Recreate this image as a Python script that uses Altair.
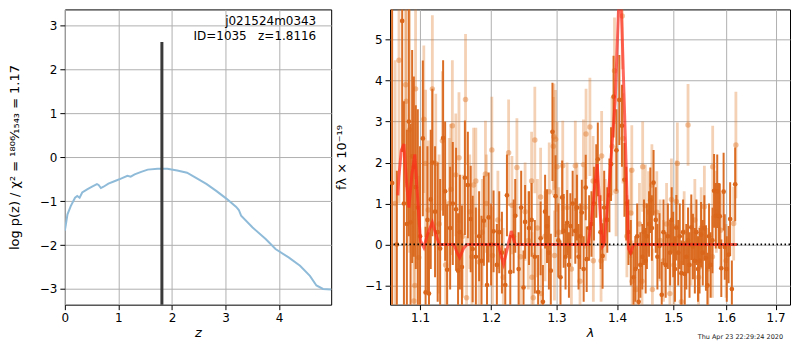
import altair as alt
import pandas as pd

FONT = "DejaVu Sans"

# ---------------- left panel: log p(z) ----------------
z_grid = [0.0, 0.049, 0.110, 0.190, 0.232, 0.275, 0.324, 0.416, 0.508, 0.599,
          0.630, 0.673, 0.722, 0.813, 0.936, 1.058, 1.168, 1.229, 1.303, 1.425,
          1.547, 1.731, 1.914, 2.098, 2.281, 2.465, 2.648, 2.832, 3.015, 3.199,
          3.248, 3.291, 3.505, 3.749, 3.933, 4.177, 4.391, 4.575, 4.697, 4.820, 4.972]
logp = [-1.67, -1.30, -1.11, -0.92, -0.88, -0.92, -0.80, -0.73, -0.67, -0.61,
        -0.63, -0.70, -0.67, -0.60, -0.54, -0.48, -0.42, -0.44, -0.39, -0.33,
        -0.28, -0.26, -0.26, -0.30, -0.35, -0.48, -0.61, -0.77, -0.94, -1.13,
        -1.20, -1.33, -1.60, -1.86, -2.09, -2.28, -2.47, -2.70, -2.92, -3.00, -3.01]
z_best = [1.8116]
z_best_top = [2.63]
left_labels = ["j021524m0343", "ID=1035\u00a0\u00a0\u00a0z=1.8116"]
left_label_y = [12, 27]

# ---------------- right panel: spectrum ----------------
wave_dark = [1.0630, 1.0692, 1.0762, 1.0785, 1.0824, 1.0850, 1.0873, 1.0894, 1.0917, 1.0943,
             1.0970, 1.1000, 1.1038, 1.1075, 1.1100, 1.1121, 1.1145, 1.1167, 1.1204, 1.1240,
             1.1274, 1.1315, 1.1343, 1.1371, 1.1413, 1.1450, 1.1496, 1.1524, 1.1550, 1.1579,
             1.1621, 1.1663, 1.1704, 1.1732, 1.1778, 1.1825, 1.1860, 1.1894, 1.1940, 1.1964,
             1.2000, 1.2036, 1.2085, 1.2120, 1.2160, 1.2210, 1.2235, 1.2285, 1.2336, 1.2360,
             1.2411, 1.2450, 1.2486, 1.2510, 1.2570, 1.2610, 1.2660, 1.2711, 1.2750, 1.2786,
             1.2820, 1.2850, 1.2880, 1.2910, 1.2936, 1.2985, 1.3030, 1.3064, 1.3091, 1.3116,
             1.3145, 1.3171, 1.3200, 1.3223, 1.3260, 1.3303, 1.3330, 1.3356, 1.3385, 1.3410,
             1.3440, 1.3474, 1.3490, 1.3530, 1.3569, 1.3610, 1.3649, 1.3675, 1.3720, 1.3755,
             1.3782, 1.3834, 1.3870, 1.3898, 1.3941, 1.3990, 1.4040, 1.4085, 1.4128, 1.4160,
             1.4198, 1.4239, 1.4287, 1.4317, 1.4350, 1.4376, 1.4406, 1.4440, 1.4470, 1.4500,
             1.4522, 1.4560, 1.4583, 1.4611, 1.4641, 1.4680, 1.4710, 1.4747, 1.4788, 1.4820,
             1.4860, 1.4900, 1.4940, 1.4970, 1.4997, 1.5030, 1.5055, 1.5090, 1.5118, 1.5148,
             1.5180, 1.5211, 1.5240, 1.5272, 1.5300, 1.5333, 1.5364, 1.5400, 1.5430, 1.5460,
             1.5489, 1.5518, 1.5550, 1.5580, 1.5611, 1.5640, 1.5670, 1.5700, 1.5735, 1.5767,
             1.5800, 1.5828, 1.5859, 1.5878, 1.5907, 1.5952, 1.5975, 1.6014, 1.6050, 1.6080,
             1.6114, 1.6180]
flux_dark = [1.5, 0.0, 5.46, 1.0, 0.5, 3.0, 0.54, 2.15, 1.9, 1.4,
             0.9, 0.2, 2.59, -1.17, 0.6, -1.2, 1.1, 2.0, 0.8, 0.3,
             -0.1, 2.6, 1.3, -0.62, 0.4, 1.0, 0.86, -0.64, 0.3, -0.55,
             1.63, 1.45, 0.62, -0.11, -0.3, 0.2, -0.4, 0.58, -0.99, 0.66,
             0.0, 0.32, -0.5, 0.3, -0.2, -0.99, 1.2, -0.67, 0.2, 0.7,
             -0.6, 0.9, -1.05, 0.55, 0.4, 0.6, -0.3, -1.16, 0.15, -1.4,
             0.8, 0.45, -0.2, -0.64, 2.75, 1.18, 0.1, -0.8, 1.15, 0.33,
             -0.3, 0.53, -0.5, 0.45, 1.0, 0.33, 0.9, -0.3, 0.2, 0.78,
             -0.6, 1.39, -0.36, 0.4, 0.5, 1.0, 1.55, 2.08, 0.3, -0.28,
             0.9, 0.6, 1.2, 1.96, 3.61, 2.3, 3.53, 2.9, 1.58, 1.0,
             0.3, -0.2, -0.8, -0.6, 0.2, -1.4, -0.5, -0.3, 0.3, -0.4,
             0.2, 0.5, 1.08, 0.4, 1.51, 0.6, -0.3, -0.04, -1.23, 0.3,
             -0.5, 0.2, -0.2, 0.6, 0.0, -0.6, 0.41, -0.2, 0.2, -0.7,
             0.3, -0.72, -0.3, 0.1, -0.5, 0.42, -0.05, -0.4, 0.3, -0.6,
             -0.4, 0.24, -0.2, 0.4, -0.33, -1.0, 0.2, -0.5, 0.1, 1.31,
             0.7, 1.3, 0.7, 0.69, -0.58, 1.29, -0.06, -0.6, -0.25, 0.62,
             -1.09, 1.47]
err_dark = [5.0, 1.8, 3.2, 2.5, 2.3, 2.8, 2.4, 2.6, 2.2, 2.0,
            2.4, 2.2, 1.9, 1.6, 1.8, 1.5, 1.7, 1.8, 1.6, 1.7,
            1.7, 1.9, 1.7, 1.6, 1.5, 1.5, 1.5, 1.4, 1.4, 1.5,
            1.4, 1.3, 1.3, 1.3, 1.2, 1.1, 1.1, 1.1, 1.0, 1.1,
            1.0, 1.0, 1.0, 1.0, 1.0, 0.9, 1.0, 0.9, 0.9, 0.9,
            0.9, 0.9, 0.9, 0.9, 0.9, 0.9, 0.9, 0.9, 0.9, 0.9,
            0.9, 0.9, 0.9, 0.9, 1.2, 1.0, 0.9, 0.9, 0.9, 0.9,
            0.8, 0.8, 0.8, 0.8, 0.8, 0.8, 0.8, 0.8, 0.8, 0.8,
            0.8, 0.8, 0.8, 0.8, 0.8, 0.9, 0.9, 0.9, 0.9, 0.8,
            0.9, 0.8, 0.9, 0.9, 1.0, 1.0, 1.1, 1.0, 0.9, 0.9,
            0.8, 0.8, 0.8, 0.8, 0.8, 0.8, 0.8, 0.8, 0.8, 0.8,
            0.8, 0.8, 0.8, 0.8, 0.8, 0.8, 0.8, 0.8, 0.8, 0.8,
            0.8, 0.8, 0.8, 0.8, 0.8, 0.8, 0.8, 0.8, 0.8, 0.8,
            0.8, 0.8, 0.8, 0.8, 0.8, 0.8, 0.8, 0.8, 0.8, 0.8,
            0.8, 0.8, 0.8, 0.8, 0.8, 0.8, 0.8, 0.8, 0.8, 0.9,
            0.8, 0.9, 0.8, 0.8, 0.7, 0.95, 0.8, 0.8, 0.7, 0.9,
            0.7, 0.9]

wave_light = [1.0670, 1.0720, 1.0808, 1.0815, 1.0860, 1.0917, 1.0930, 1.0940, 1.0983, 1.1051,
              1.1075, 1.1111, 1.1167, 1.1214, 1.1260, 1.1305, 1.1350, 1.1400, 1.1422, 1.1444,
              1.1492, 1.1537, 1.1590, 1.1630, 1.1645, 1.1690, 1.1722, 1.1746, 1.1778, 1.1825,
              1.1871, 1.1917, 1.1930, 1.2011, 1.2020, 1.2100, 1.2180, 1.2260, 1.2310, 1.2385,
              1.2440, 1.2510, 1.2560, 1.2610, 1.2615, 1.2636, 1.2660, 1.2700, 1.2750, 1.2760,
              1.2820, 1.2885, 1.2950, 1.2960, 1.2968, 1.2985, 1.3011, 1.3037, 1.3100, 1.3170,
              1.3240, 1.3303, 1.3330, 1.3380, 1.3436, 1.3463, 1.3479, 1.3543, 1.3596, 1.3600,
              1.3729, 1.3739, 1.3800, 1.3914, 1.3957, 1.3984, 1.4090, 1.4102, 1.4170, 1.4239,
              1.4256, 1.4262, 1.4330, 1.4390, 1.4435, 1.4447, 1.4494, 1.4553, 1.4611, 1.4620,
              1.4699, 1.4759, 1.4820, 1.4876, 1.4936, 1.4965, 1.5010, 1.5055, 1.5074, 1.5148,
              1.5200, 1.5272, 1.5330, 1.5400, 1.5470, 1.5520, 1.5581, 1.5650, 1.5735, 1.5740,
              1.5810, 1.5895, 1.6000, 1.6150, 1.6194]
flux_light = [1.0, 4.5, 3.9, 3.5, 2.8, -1.38, -1.0, 3.8, -0.32, 3.06,
              1.98, 0.84, 3.8, 1.98, 0.5, 2.53, -0.5, 1.0, 1.34, 2.9,
              1.7, 2.12, 0.2, 3.54, -1.3, 0.8, -0.3, 1.45, 1.55, -0.43,
              0.3, 1.72, 1.0, 2.31, -0.27, 0.6, -0.8, 2.24, 0.96, 1.88,
              -0.3, 0.8, 0.1, 1.55, -0.8, -1.3, 2.55, 0.4, 1.16, -1.2,
              0.2, 1.29, 2.4, 2.63, -0.27, 2.57, 1.9, 0.3, 1.92, 0.9,
              -0.6, 1.92, 0.9, -0.9, 1.95, 0.9, 2.7, 2.87, 1.55, -0.4,
              -0.4, 2.16, 0.6, 2.4, 4.24, 1.3, 5.58, 2.59, 0.2, 0.77,
              1.81, -0.9, -1.1, 0.5, -0.9, 1.9, 0.95, 0.79, 1.45, -1.1,
              0.79, 0.1, -0.4, 0.5, -1.2, 1.1, -0.5, 1.05, 1.98, -1.4,
              0.3, 2.92, 0.0, 0.6, -0.8, 0.4, 0.92, -0.6, -0.3, 1.9,
              0.8, 0.35, -0.4, 0.51, 2.43]
err_light = [3.5, 3.5, 2.5, 2.5, 3.0, 2.2, 2.0, 2.2, 2.0, 1.8,
             1.8, 1.7, 1.8, 1.7, 1.7, 1.7, 1.6, 1.6, 1.6, 1.6,
             1.5, 1.6, 1.5, 1.6, 1.5, 1.4, 1.4, 1.4, 1.3, 1.3,
             1.3, 1.3, 1.2, 1.3, 1.2, 1.2, 1.2, 1.3, 1.2, 1.2,
             1.2, 1.2, 1.2, 1.2, 1.1, 1.1, 1.3, 1.2, 1.2, 1.1,
             1.1, 1.2, 1.2, 1.3, 1.1, 1.2, 1.1, 1.1, 1.1, 1.1,
             1.0, 1.1, 1.1, 1.0, 1.1, 1.0, 1.1, 1.2, 1.1, 1.0,
             1.0, 1.1, 1.0, 1.2, 1.3, 1.1, 1.3, 1.1, 1.0, 1.1,
             1.1, 1.0, 1.0, 1.0, 1.0, 1.1, 1.0, 1.0, 1.0, 1.0,
             1.0, 1.0, 1.0, 1.0, 1.0, 1.0, 1.0, 1.0, 1.0, 1.0,
             1.0, 1.0, 1.0, 1.0, 1.0, 1.0, 1.0, 1.0, 1.0, 1.0,
             1.0, 0.9, 0.9, 0.9, 1.3]

model_wave = [1.0705, 1.0718, 1.0750, 1.0785, 1.0820, 1.0851, 1.0890, 1.0930, 1.0965, 1.1006,
              1.1051, 1.1110, 1.1167, 1.1215, 1.1260, 1.1468, 1.1510, 1.1547, 1.1600, 1.1649,
              1.2110, 1.2150, 1.2185, 1.2240, 1.2300, 1.2330, 1.2360, 1.3515, 1.3570, 1.3620,
              1.3665, 1.3718, 1.3755, 1.3782, 1.3862, 1.3969, 1.4020, 1.4050, 1.4085, 1.4141,
              1.4198, 1.4234, 1.4287, 1.6216]
model_flux = [1.2, 1.63, 2.3, 2.45, 1.5, 0.9, 1.7, 2.2, 1.2, 0.09,
              -0.07, 0.3, 0.54, 0.25, 0.0, 0.0, -0.2, -0.32, -0.1, 0.0,
              0.0, -0.3, -0.48, -0.1, 0.33, 0.15, 0.0, 0.0, 0.6, 1.39,
              1.96, 0.7, -0.05, 0.0, 1.39, 3.5, 5.5, 6.6, 5.3, 2.7,
              -0.1, -0.2, 0.0, 0.0]
zero_level = [0.0]
timestamp = ["Thu Apr 23 22:29:24 2020"]

DARK = "#d9661a"
LIGHT = "#e07a2c"

W_LEFT, W_RIGHT, H = 267, 401, 296

# ---------------- left chart ----------------
xs_l = alt.Scale(domain=[0, 4.972], nice=False, zero=False)
ys_l = alt.Scale(domain=[-3.357, 3.37], nice=False, zero=False)
xax_l = alt.Axis(values=[0, 1, 2, 3, 4], format="d", title="z",
                 titleFontStyle="italic", titlePadding=3, labelFlush=False)
yax_l = alt.Axis(values=[-3, -2, -1, 0, 1, 2, 3], format="d",
                 title="log p(z) / χ² = ¹⁸⁰⁶⁄₁₅₄₃ = 1.17", titlePadding=16,
                 minExtent=27, maxExtent=27)

df_pz = pd.DataFrame({"z": z_grid, "logp": logp})
pz_line = alt.Chart(df_pz).mark_line(color="#8fbbd9", strokeWidth=2, clip=True).encode(
    x=alt.X("z:Q", scale=xs_l, axis=xax_l),
    y=alt.Y("logp:Q", scale=ys_l, axis=yax_l),
)
df_best = pd.DataFrame({"z": z_best, "logp": z_best_top})
best_rule = alt.Chart(df_best).mark_rule(color="#3a3a3a", strokeWidth=3).encode(
    x=alt.X("z:Q", scale=xs_l, axis=xax_l),
    y=alt.Y("logp:Q", scale=ys_l, axis=yax_l),
    y2=alt.value(H),
)
df_lab = pd.DataFrame({"t": left_labels, "py": left_label_y})
lab_text = alt.Chart(df_lab).mark_text(align="right", baseline="middle", fontSize=12,
                                       font=FONT, color="black").encode(
    x=alt.value(W_LEFT - 15), y=alt.Y("py:Q", scale=None), text="t:N"
)
left = alt.layer(pz_line, best_rule, lab_text).properties(width=W_LEFT, height=H)

# ---------------- right chart ----------------
xs_r = alt.Scale(type="log", domain=[1.0603, 1.7303], nice=False, zero=False)
ys_r = alt.Scale(domain=[-1.47, 5.74], nice=False, zero=False)
xax_r = alt.Axis(values=[1.1, 1.2, 1.3, 1.4, 1.5, 1.6, 1.7], format=".1f", title="λ",
                 titleFontStyle="italic", titlePadding=3, labelFlush=False)
yax_r = alt.Axis(values=[-1, 0, 1, 2, 3, 4, 5], format="d", title="fλ × 10⁻¹⁹",
                 titlePadding=15, minExtent=27, maxExtent=27)

df_d = pd.DataFrame({"wave": wave_dark, "flux": flux_dark, "err": err_dark})
df_d["lo"] = df_d["flux"] - df_d["err"]
df_d["hi"] = df_d["flux"] + df_d["err"]
df_l = pd.DataFrame({"wave": wave_light, "flux": flux_light, "err": err_light})
df_l["lo"] = df_l["flux"] - df_l["err"]
df_l["hi"] = df_l["flux"] + df_l["err"]
df_m = pd.DataFrame({"wave": model_wave, "flux": model_flux})

X = alt.X("wave:Q", scale=xs_r, axis=xax_r)

light_bars = alt.Chart(df_l).mark_rule(color=LIGHT, opacity=0.35, strokeWidth=2.8, clip=True).encode(
    x=X, y=alt.Y("lo:Q", scale=ys_r, axis=yax_r), y2="hi:Q")
light_pts = alt.Chart(df_l).mark_circle(color=LIGHT, opacity=0.45, size=30, clip=True).encode(
    x=X, y=alt.Y("flux:Q", scale=ys_r, axis=yax_r))
dark_bars = alt.Chart(df_d).mark_rule(color=DARK, opacity=0.95, strokeWidth=2, clip=True).encode(
    x=X, y=alt.Y("lo:Q", scale=ys_r, axis=yax_r), y2="hi:Q")
dark_pts = alt.Chart(df_d).mark_circle(color=DARK, opacity=1, size=22, clip=True).encode(
    x=X, y=alt.Y("flux:Q", scale=ys_r, axis=yax_r))
model = alt.Chart(df_m).mark_line(color="#ff2a1a", opacity=0.7, strokeWidth=3, clip=True).encode(
    x=X, y=alt.Y("flux:Q", scale=ys_r, axis=yax_r))
zero_rule = alt.Chart(pd.DataFrame({"flux": zero_level})).mark_rule(
    color="black", strokeWidth=1.8, strokeDash=[1.5, 2.5]).encode(
    y=alt.Y("flux:Q", scale=ys_r, axis=yax_r))
stamp = alt.Chart(pd.DataFrame({"t": timestamp})).mark_text(
    align="right", baseline="middle", fontSize=6.5, font=FONT, color="#222222", clip=False).encode(
    x=alt.value(W_RIGHT - 7), y=alt.value(328), text="t:N")

right = alt.layer(light_bars, light_pts, dark_bars, dark_pts, model, zero_rule, stamp).properties(
    width=W_RIGHT, height=H)

chart = alt.hconcat(left, right, spacing=2).configure(
    font=FONT, padding={"left": 0, "top": 0, "right": 0, "bottom": 0}
).configure_view(stroke="black", strokeWidth=1).configure_axis(
    grid=True, gridColor="#b0b0b0", gridWidth=1, domain=False,
    tickColor="black", tickSize=5, tickWidth=1, labelFontSize=12, titleFontSize=13,
    labelColor="black", titleColor="black", titleFontWeight="normal",
    labelFont=FONT, titleFont=FONT, labelPadding=3, labelOverlap=False
)

chart.save("out.html", embed_options={"renderer": "svg", "actions": False})
